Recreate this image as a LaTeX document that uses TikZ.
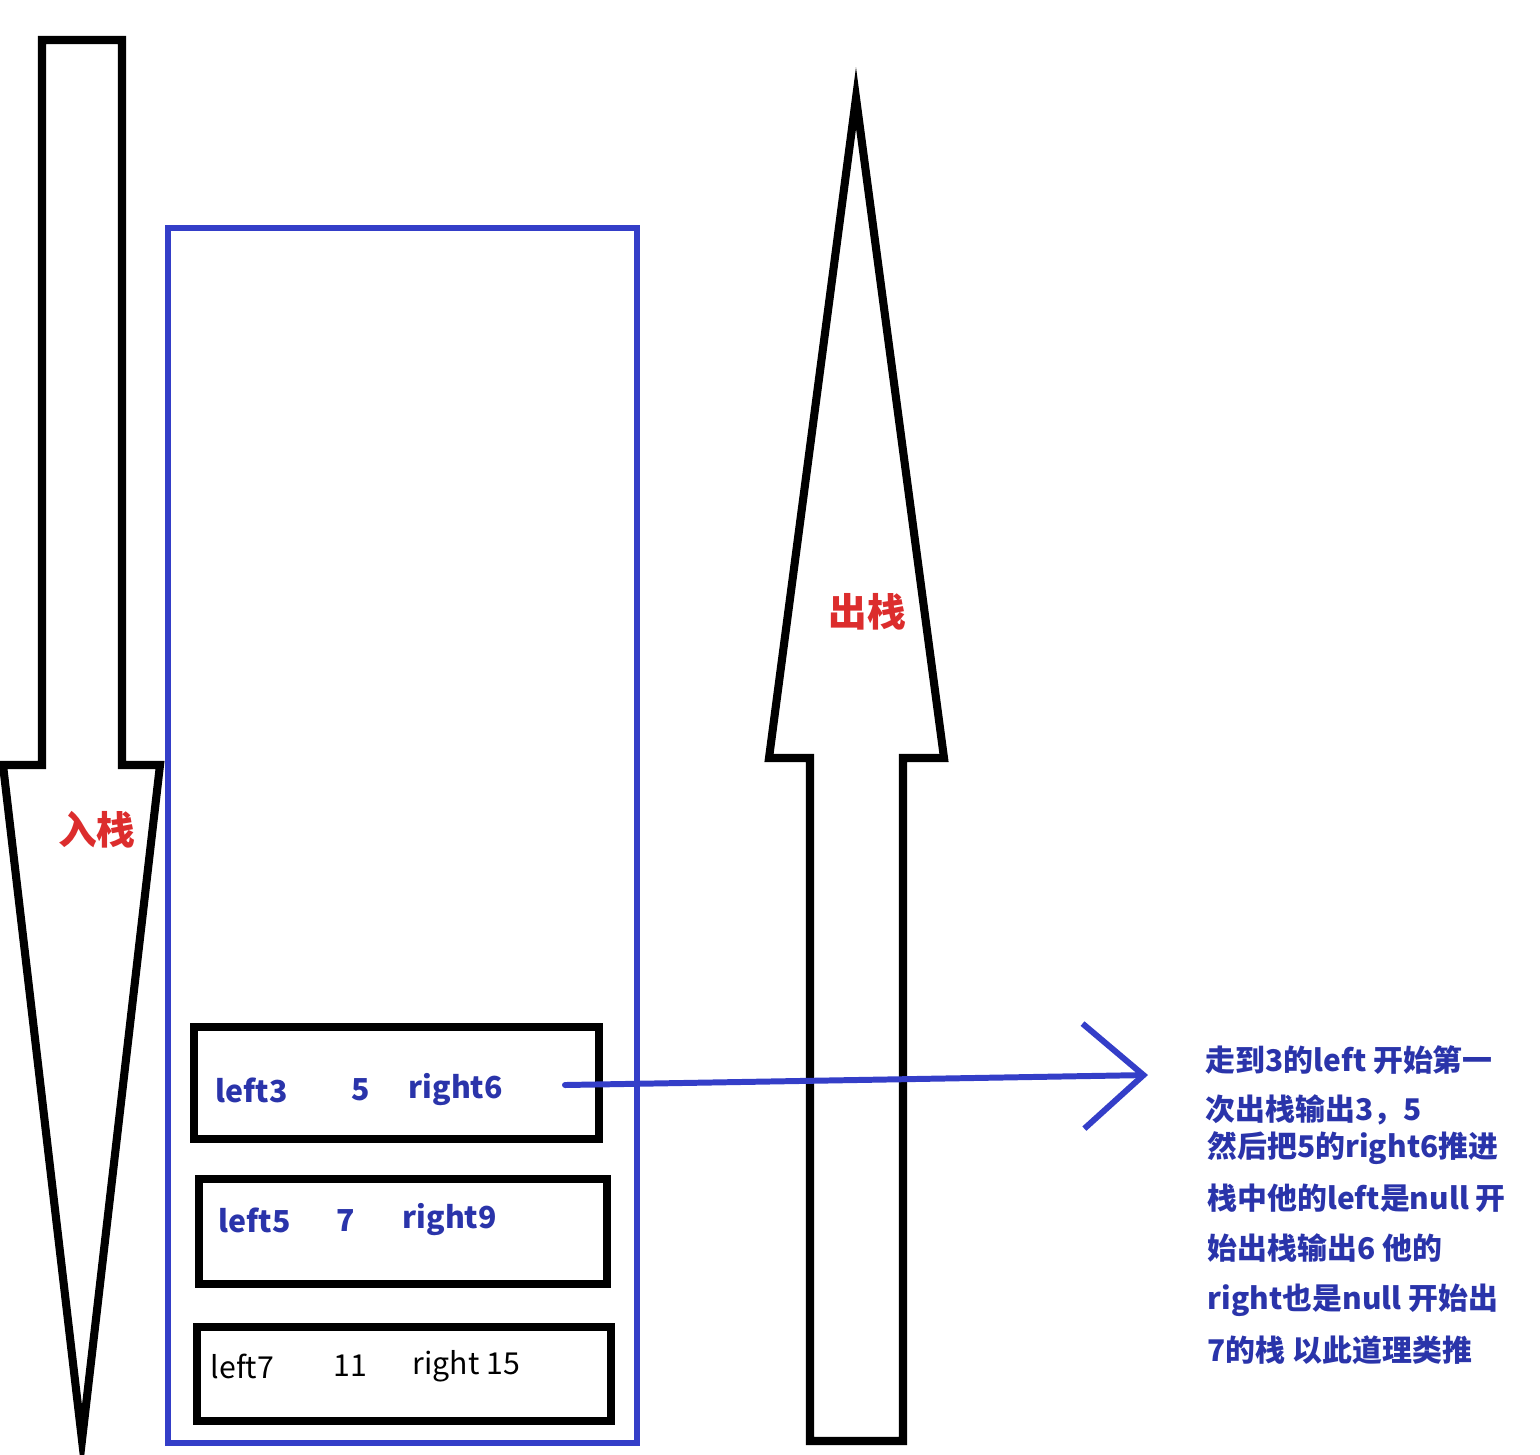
\documentclass[tikz,border=0pt]{standalone}
\usepackage{fontspec}
\setmainfont{Noto Sans CJK SC}
\usetikzlibrary{arrows.meta}
\definecolor{stackblue}{RGB}{52,62,200}
\definecolor{textblue}{RGB}{42,52,170}
\definecolor{labelred}{RGB}{220,45,45}
\tikzset{
  bigarrow/.style={draw=black, line width=2.3pt, line join=miter, fill=white},
  itembox/.style={draw=black, line width=2.3pt, anchor=north west},
  itemtext/.style={text=textblue, font=\fontsize{8.6}{11}\selectfont\bfseries, inner sep=0pt},
  plaintext/.style={text=black, font=\fontsize{8.6}{11}\selectfont, inner sep=0pt},
  notetext/.style={text=textblue, font=\fontsize{8.5}{11}\selectfont\bfseries, inner sep=0pt, anchor=west},
  stacklabel/.style={text=labelred, font=\fontsize{11}{13}\selectfont\bfseries}
}
\begin{document}
\begin{tikzpicture}[x=0.01cm, y=-0.01cm]
        \useasboundingbox (0,0) rectangle (1540,1454);
        % Push arrow
        \draw[bigarrow] (42,40) -- (122,40) -- (122,765) -- (160,765) -- (82,1440)
            -- (3,765) -- (42,765) -- cycle;
        \node[stacklabel] (push) at (97,830) {入栈};
        % Pop arrow
        \draw[bigarrow] (856,98) -- (944,758) -- (903,758) -- (903,1441) -- (810,1441)
            -- (810,758) -- (769,758) -- cycle;
        \node[stacklabel] (pop) at (867,612) {出栈};
        % Stack
        \draw[stackblue, line width=1.5pt] (168,228) rectangle (637,1443);
        \node[itembox, minimum width=4.05cm, minimum height=1.12cm] (b1) at (190,1023) {};
        \node[itembox, minimum width=4.08cm, minimum height=1.05cm] (b2) at (195,1175) {};
        \node[itembox, minimum width=4.14cm, minimum height=0.94cm] (b3) at (193,1323) {};
        % Items
        \node[itemtext, anchor=west] (l3) at (215,1090) {left3};
        \node[itemtext] (v5) at (361,1090) {5};
        \node[itemtext, anchor=west] (r6) at (408,1090) {right6};
        \node[itemtext, anchor=west] (l5) at (218,1220) {left5};
        \node[itemtext] (v7) at (346,1220) {7};
        \node[itemtext, anchor=west] (r9) at (402,1220) {right9};
        \node[plaintext, anchor=west] (l7) at (210,1366) {left7};
        \node[plaintext] (v11) at (350,1366) {11};
        \node[plaintext, anchor=west] (r15) at (412,1366) {right 15};
        % Output arrow
        \coordinate (from) at (565,1085);
        \coordinate (to) at (1148,1075);
        \draw[stackblue, line width=1.7pt, line cap=round,
            -{Straight Barb[length=6mm, width=10.5mm, line width=1.7pt]}] (from) -- (to);
        % Note
        \node[notetext] (n1) at (1205,1060) {走到3的left 开始第一};
        \node[notetext] (n2) at (1205,1110) {次出栈输出3，5};
        \node[notetext] (n3) at (1207,1148) {然后把5的right6推进};
        \node[notetext] (n4) at (1207,1198) {栈中他的left是null 开};
        \node[notetext] (n5) at (1207,1248) {始出栈输出6 他的};
        \node[notetext] (n6) at (1207,1300) {right也是null 开始出};
        \node[notetext] (n7) at (1207,1350) {7的栈 以此道理类推};
    \end{tikzpicture}
\end{document}
